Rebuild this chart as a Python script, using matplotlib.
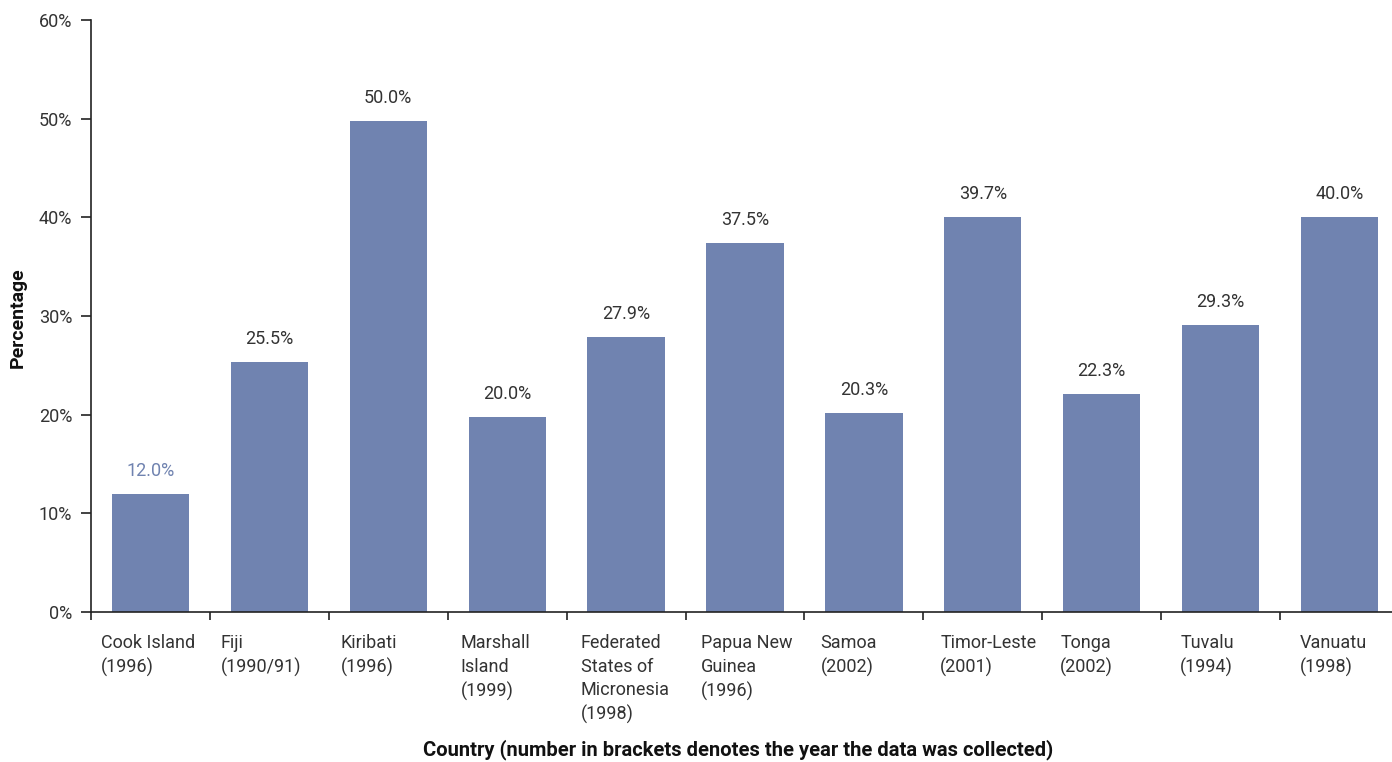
import numpy as np
import matplotlib.pyplot as plt

plt.rcParams['font.family'] = ['Roboto', 'DejaVu Sans']

# data
countries = ['Cook Island\n(1996)', 'Fiji\n(1990/91)', 'Kiribati\n(1996)',
             'Marshall\nIsland\n(1999)', 'Federated\nStates of\nMicronesia\n(1998)',
             'Papua New\nGuinea\n(1996)', 'Samoa\n(2002)', 'Timor-Leste\n(2001)',
             'Tonga\n(2002)', 'Tuvalu\n(1994)', 'Vanuatu\n(1998)']
heights = [12.0, 25.3, 49.8, 19.8, 27.9, 37.4, 20.2, 40.0, 22.1, 29.1, 40.0]
labels = ['12.0%', '25.5%', '50.0%', '20.0%', '27.9%', '37.5%', '20.3%',
          '39.7%', '22.3%', '29.3%', '40.0%']

barcolor = '#7083b0'
textcolor = '#333333'

fig = plt.figure(figsize=(13.92, 7.62), dpi=100)
# axes runs a bit past the right edge of the figure, as in the original
ax = fig.add_axes([91 / 1392, 1 - 612 / 762, 1308 / 1392, (612 - 20) / 762])

x = np.arange(len(countries))
ax.bar(x, heights, width=0.65, color=barcolor)

for i, (h, lab) in enumerate(zip(heights, labels)):
    c = barcolor if i == 0 else textcolor
    ax.annotate(lab, (x[i], h), xytext=(0, 10), textcoords='offset points',
                ha='center', va='bottom', fontsize=13, color=c)

ax.set_xlim(-0.5, len(countries) - 0.5)
ax.set_ylim(0, 60)
ax.set_yticks(range(0, 61, 10))
ax.set_yticklabels([f'{v}%' for v in range(0, 61, 10)], fontsize=13, color=textcolor)

# ticks between categories, labels left aligned (they drift right slightly in the original)
ax.set_xticks(np.arange(len(countries)) - 0.5)
ax.set_xticklabels([])
for i, name in enumerate(countries):
    ax.annotate(name, (i - 0.5, 0), xytext=(10 + i, -22), textcoords='offset pixels',
                ha='left', va='top', fontsize=13, color=textcolor, linespacing=1.4,
                annotation_clip=False)

ax.tick_params(axis='y', direction='out', length=7.5, color='#222222', width=1.2, pad=6)
ax.tick_params(axis='x', direction='out', length=6, color='#222222', width=1.2)
for s in ['top', 'right']:
    ax.spines[s].set_visible(False)
for s in ['left', 'bottom']:
    ax.spines[s].set_color('#222222')
    ax.spines[s].set_linewidth(1.2)

fig.text(18 / 1392, 1 - 318 / 762, 'Percentage', rotation=90, ha='center', va='center',
         fontsize=14, fontweight='bold', color='#111111')
fig.text(738 / 1392, 1 - 750 / 762, 'Country (number in brackets denotes the year the data was collected)',
         ha='center', va='center', fontsize=14.5, fontweight='bold', color='#111111')

fig.savefig('out.png', dpi=100)
